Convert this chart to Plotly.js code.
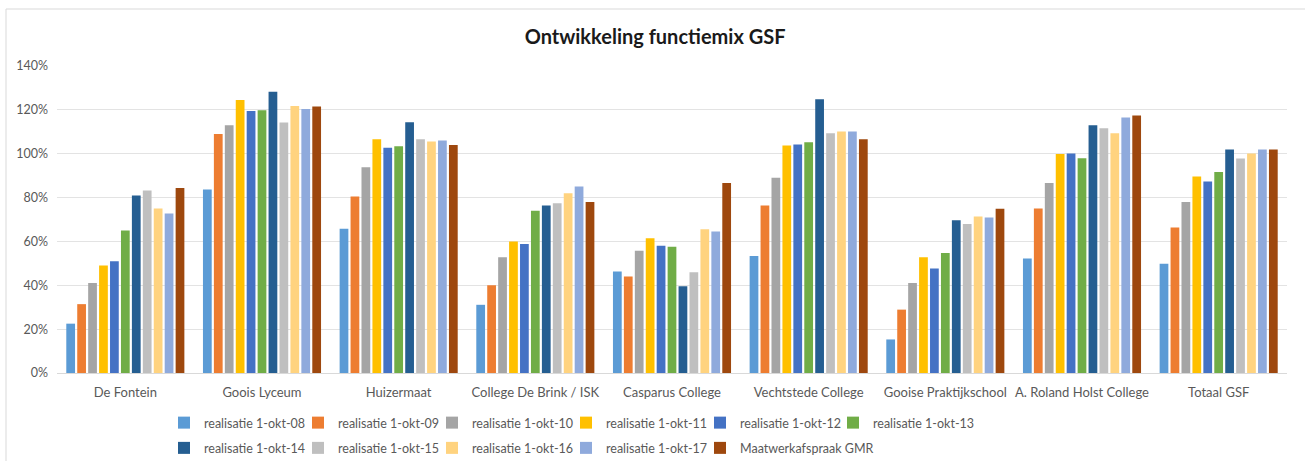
<!DOCTYPE html>
<html>
<head>
<meta charset="utf-8">
<script src="https://cdn.plot.ly/plotly-3.0.1.min.js"></script>
<style>
html,body{margin:0;padding:0;background:#fff;}
#chart{width:1305px;height:461px;}
</style>
</head>
<body>
<div id="chart"></div>
<script>
var categories = ["De Fontein", "Goois Lyceum", "Huizermaat", "College De Brink / ISK", "Casparus College", "Vechtstede College", "Gooise Praktijkschool", "A. Roland Holst College", "Totaal GSF"];

var seriesNames = ["realisatie 1-okt-08", "realisatie 1-okt-09", "realisatie 1-okt-10", "realisatie 1-okt-11", "realisatie 1-okt-12", "realisatie 1-okt-13", "realisatie 1-okt-14", "realisatie 1-okt-15", "realisatie 1-okt-16", "realisatie 1-okt-17", "Maatwerkafspraak GMR"];

var seriesColors = ["#5B9BD5", "#ED7D31", "#A5A5A5", "#FFC000", "#4472C4", "#70AD47", "#255E91", "#BFBFBF", "#FFD37F", "#8FAADC", "#9E480E"];

// values in %, per series, in category order
var okt08 = [22.5, 83.7, 65.8, 31.1, 46.3, 53.3, 15.3, 52.2, 49.8];
var okt09 = [31.4, 109.0, 80.5, 40.0, 44.0, 76.4, 28.9, 75.0, 66.4];
var okt10 = [41.0, 113.0, 93.8, 52.8, 55.7, 89.0, 41.0, 86.7, 78.0];
var okt11 = [49.0, 124.5, 106.6, 60.0, 61.4, 103.7, 52.8, 99.9, 89.6];
var okt12 = [51.0, 119.5, 102.7, 58.8, 58.0, 104.2, 47.7, 100.1, 87.3];
var okt13 = [65.0, 119.8, 103.4, 74.0, 57.6, 105.2, 54.7, 97.9, 91.7];
var okt14 = [81.0, 128.3, 114.3, 76.4, 39.6, 124.8, 69.7, 113.0, 101.9];
var okt15 = [83.2, 114.2, 106.6, 77.4, 45.9, 109.3, 68.0, 111.6, 97.8];
var okt16 = [75.0, 121.8, 105.6, 82.0, 65.5, 110.1, 71.4, 109.3, 100.1];
var okt17 = [72.7, 120.4, 106.0, 85.0, 64.5, 110.1, 70.9, 116.5, 101.9];
var gmr   = [84.4, 121.5, 104.0, 78.0, 86.7, 106.6, 74.9, 117.4, 101.9];

var seriesValues = [okt08, okt09, okt10, okt11, okt12, okt13, okt14, okt15, okt16, okt17, gmr];

var yTickVals = [0, 20, 40, 60, 80, 100, 120, 140];

var FONT = "Lato, 'Open Sans', sans-serif";

// plot area in px (for placing legends/frame)
var W = 1305, H = 461, ML = 57, MR = 18, MT = 66, MB = 88;
var PW = W - ML - MR, PH = H - MT - MB;

var legendIds = ["legend", "legend2", "legend3", "legend4", "legend5", "legend6"];

var traces = seriesNames.map(function (name, i) {
  return {
    type: "bar",
    name: name,
    x: categories,
    y: seriesValues[i],
    marker: {color: seriesColors[i], line: {width: 0}},
    legend: legendIds[i % 6],
    legendgroup: "g" + i,
    hoverinfo: "skip"
  };
});

var layout = {
  width: W,
  height: H,
  margin: {l: ML, r: MR, t: MT, b: MB, pad: 0, autoexpand: false},
  paper_bgcolor: "#ffffff",
  plot_bgcolor: "#ffffff",
  font: {family: FONT, size: 13, color: "#595959"},
  title: {
    text: "<b>Ontwikkeling functiemix GSF</b>",
    font: {family: FONT, size: 20, color: "#1a1a1a"},
    x: 0.502, xref: "container", xanchor: "center",
    y: 1 - 37 / H, yref: "container", yanchor: "middle"
  },
  barmode: "group",
  bargap: 0.12,
  bargroupgap: 0.2,
  xaxis: {
    type: "category",
    showgrid: false,
    showline: true,
    linecolor: "#d9d9d9",
    linewidth: 1,
    ticks: "",
    ticklabelstandoff: 7,
    tickfont: {family: FONT, size: 13, color: "#595959"},
    fixedrange: true
  },
  yaxis: {
    range: [0, 140],
    tickvals: yTickVals,
    ticktext: yTickVals.map(function (v) { return v + "%"; }),
    showgrid: true,
    gridcolor: "#e3e3e3",
    gridwidth: 1,
    zeroline: false,
    showline: false,
    ticks: "",
    ticklabelstandoff: 8,
    tickfont: {family: FONT, size: 12.5, color: "#595959"},
    fixedrange: true
  },
  shapes: [{
    type: "rect", xref: "paper", yref: "paper",
    x0: (6 - ML) / PW, x1: 1.05, y0: 1 + (MT - 9) / PH, y1: -0.5,
    line: {color: "#d9d9d9", width: 1}, fillcolor: "rgba(0,0,0,0)", layer: "below"
  }],
  showlegend: true
};

// legend columns: left edge in px
var legendColPx = [164, 298, 432, 566, 700, 833];
legendIds.forEach(function (id, k) {
  layout[id] = {
    orientation: "v",
    x: (legendColPx[k] - ML) / PW,
    xanchor: "left",
    y: (H - MB - 408) / PH,
    yanchor: "top",
    bgcolor: "rgba(0,0,0,0)",
    borderwidth: 0,
    tracegroupgap: 6,
    traceorder: "grouped",
    font: {family: FONT, size: 12.5, color: "#595959"}
  };
});

Plotly.newPlot("chart", traces, layout, {displayModeBar: false, staticPlot: true});
</script>
</body>
</html>
